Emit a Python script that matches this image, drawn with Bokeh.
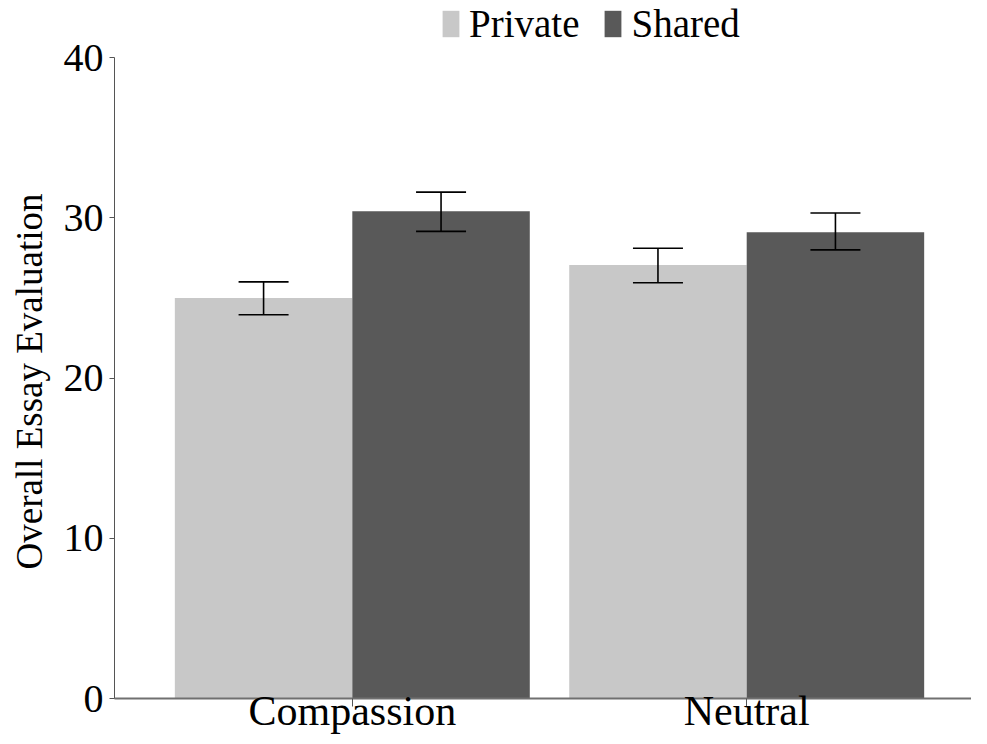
from bokeh.plotting import figure
from bokeh.models import (ColumnDataSource, Range1d, FixedTicker, Whisker, TeeHead,
                          Legend, LegendItem, Title)
from bokeh.embed import file_html
from bokeh.resources import INLINE

categories = ["Compassion", "Neutral"]
groups = ["Private", "Shared"]
private_vals = [25.0, 27.05]
private_lo = [23.95, 25.95]
private_hi = [26.0, 28.1]
shared_vals = [30.4, 29.1]
shared_lo = [29.15, 28.0]
shared_hi = [31.6, 30.3]
y_ticks = [0, 10, 20, 30, 40]
colors = ["#c8c8c8", "#595959"]
y_label = "Overall Essay Evaluation"

FONT = "Times New Roman"
xs = [i + 1 for i in range(len(categories))]
offset = 0.225
bw = 0.45

p = figure(width=971, height=736, output_backend="svg", toolbar_location=None,
           x_range=Range1d(0.397, 2.57), y_range=Range1d(0, 43.56))

src_p = ColumnDataSource(dict(x=[x - offset for x in xs], top=private_vals,
                              lo=private_lo, hi=private_hi))
src_s = ColumnDataSource(dict(x=[x + offset for x in xs], top=shared_vals,
                              lo=shared_lo, hi=shared_hi))

r1 = p.vbar(x="x", top="top", width=bw, source=src_p, fill_color=colors[0], line_color=None)
r2 = p.vbar(x="x", top="top", width=bw, source=src_s, fill_color=colors[1], line_color=None)

for src in (src_p, src_s):
    w = Whisker(source=src, base="x", lower="lo", upper="hi", line_color="black", line_width=1.6,
                upper_head=TeeHead(size=50, line_color="black", line_width=1.6),
                lower_head=TeeHead(size=50, line_color="black", line_width=1.6),
                level="overlay")
    p.add_layout(w)

p.xgrid.visible = False
p.ygrid.visible = False
p.outline_line_color = None
p.background_fill_color = "white"
p.border_fill_color = "white"

xax = p.xaxis[0]
yax = p.yaxis[0]

xax.ticker = FixedTicker(ticks=xs)
xax.major_label_overrides = {x: c for x, c in zip(xs, categories)}
xax.minor_tick_line_color = None
xax.major_tick_in = 0
xax.major_tick_out = 8
xax.axis_line_color = "#707070"
xax.axis_line_width = 2
xax.major_tick_line_color = "#555555"
xax.major_label_text_font = FONT
xax.major_label_text_font_style = "normal"
xax.major_label_text_font_size = "42px"
xax.major_label_text_color = "black"
xax.major_label_standoff = -19

yax.ticker = FixedTicker(ticks=y_ticks)
yax.bounds = (0, 40)
yax.minor_tick_line_color = None
yax.major_tick_in = 0
yax.major_tick_out = 5
yax.axis_line_color = "#555555"
yax.major_tick_line_color = "#555555"
yax.major_label_text_font = FONT
yax.major_label_text_font_style = "normal"
yax.major_label_text_font_size = "40px"
yax.major_label_text_color = "black"
yax.major_label_standoff = 6

ytitle = Title(text=y_label, align="left", offset=129, standoff=17, vertical_align="top",
               text_font=FONT, text_font_size="37px", text_font_style="normal",
               text_color="black")
p.add_layout(ytitle, "left")

legend = Legend(items=[LegendItem(label=groups[0], renderers=[r1]),
                       LegendItem(label=groups[1], renderers=[r2])],
                orientation="horizontal", location=(326, 652),
                glyph_width=21, glyph_height=33, label_standoff=8, spacing=23,
                padding=0, margin=0, border_line_color=None, background_fill_alpha=0,
                label_text_font=FONT, label_text_font_style="normal",
                label_text_font_size="39px", label_height=33,
                label_text_color="black")
p.add_layout(legend)
p.min_border_top = 0
p.min_border_right = 0
p.min_border_left = 0
p.min_border_bottom = 0

open("out.html", "w").write(file_html(p, INLINE))
